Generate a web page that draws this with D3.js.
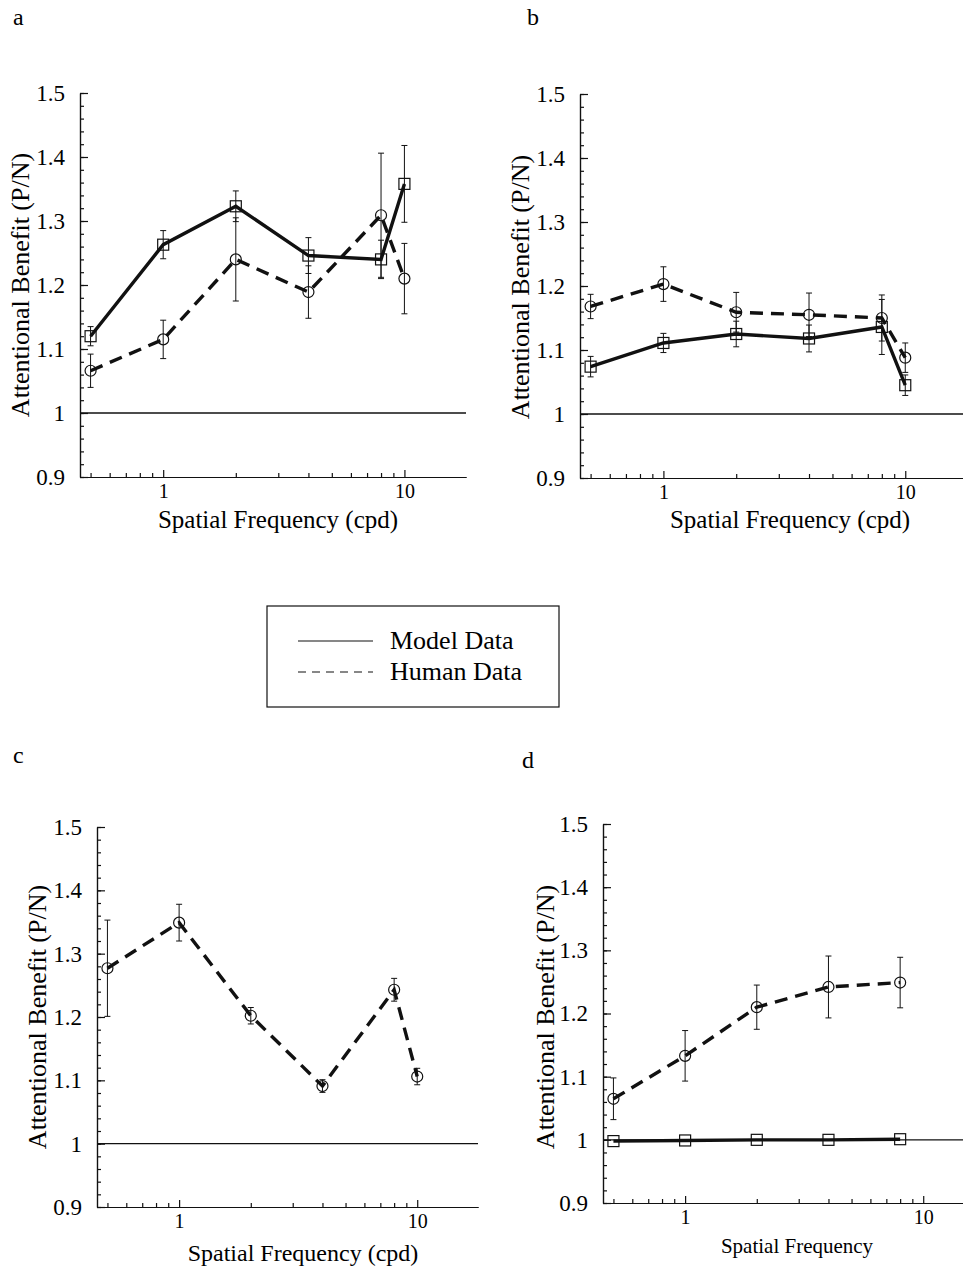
<!DOCTYPE html>
<html>
<head>
<meta charset="utf-8">
<script src="https://cdn.jsdelivr.net/npm/d3@7"></script>
<style>
  body { margin: 0; background: #fff; }
  svg { display: block; font-family: "Liberation Serif", "Times New Roman", serif; }
</style>
</head>
<body>
<svg width="963" height="1268"></svg>
<script>
// spatial frequencies (cpd)
var freqs = [0.5, 1, 2, 4, 8, 10];
var freqsD = [0.5, 1, 2, 4, 8];

// panel a
var aModel = [1.120, 1.263, 1.323, 1.246, 1.240, 1.358];
var aModelErr = [0.015, 0.022, 0.024, 0.028, 0.030, 0.060];
var aHuman = [1.066, 1.115, 1.240, 1.189, 1.309, 1.210];
var aHumanErr = [0.026, 0.030, 0.065, 0.041, 0.097, 0.055];

// panel b
var bModel = [1.074, 1.111, 1.125, 1.118, 1.136, 1.045];
var bModelErr = [0.016, 0.015, 0.020, 0.021, 0.043, 0.016];
var bHuman = [1.168, 1.203, 1.159, 1.155, 1.150, 1.088];
var bHumanErr = [0.019, 0.027, 0.031, 0.034, 0.036, 0.023];

// panel c (human only)
var cHuman = [1.277, 1.349, 1.202, 1.091, 1.243, 1.106];
var cHumanErr = [0.076, 0.029, 0.013, 0.010, 0.018, 0.013];

// panel d
var dModel = [0.998, 0.999, 1.000, 1.000, 1.001];
var dHuman = [1.065, 1.133, 1.210, 1.242, 1.249];
var dHumanErr = [0.033, 0.040, 0.035, 0.049, 0.040];

// ticks and labels
var yTicks = [0.9, 1, 1.1, 1.2, 1.3, 1.4, 1.5];
var xTicks = [1, 10];
var xMinor = [0.5, 0.6, 0.7, 0.8, 0.9, 2, 3, 4, 5, 6, 7, 8, 9];
var yTitle = "Attentional Benefit (P/N)";
var xTitles = ["Spatial Frequency (cpd)", "Spatial Frequency (cpd)", "Spatial Frequency (cpd)", "Spatial Frequency"];
var panelNames = ["a", "b", "c", "d"];
var legendNames = ["Model Data", "Human Data"];

function pts(f, v, e) {
  return f.map(function(d, i) { return {f: d, v: v[i], e: e ? e[i] : 0}; });
}

var svg = d3.select("svg");

// layout for each panel (not data)
var layout = [
  {left: 80, width: 386, top: 93, bottom: 477, lx: 13, ly: 25, tx: 278, ty: 528, tsize: 25, yx: 29, yy: 285},
  {left: 580, width: 387, top: 94, bottom: 478, lx: 527, ly: 25, tx: 790, ty: 528, tsize: 25, yx: 529, yy: 287},
  {left: 97, width: 381, top: 827, bottom: 1207, lx: 13, ly: 763, tx: 303, ty: 1261, tsize: 24, yx: 46, yy: 1017},
  {left: 603, width: 381, top: 824, bottom: 1203, lx: 522, ly: 768, tx: 797, ty: 1253, tsize: 21, yx: 554, yy: 1017}
];

var panelSeries = [
  [{pts: pts(freqs, aModel, aModelErr), dash: null, mark: "square"},
   {pts: pts(freqs, aHuman, aHumanErr), dash: "13,8", mark: "circle"}],
  [{pts: pts(freqs, bModel, bModelErr), dash: null, mark: "square"},
   {pts: pts(freqs, bHuman, bHumanErr), dash: "13,8", mark: "circle"}],
  [{pts: pts(freqs, cHuman, cHumanErr), dash: "13,8", mark: "circle"}],
  [{pts: pts(freqsD, dModel, null), dash: null, mark: "square"},
   {pts: pts(freqsD, dHuman, dHumanErr), dash: "13,8", mark: "circle"}]
];

layout.forEach(function(p, k) {
  var x = d3.scaleLog().domain([0.452, 18]).range([p.left, p.left + p.width]);
  var y = d3.scaleLinear().domain([0.9, 1.5]).range([p.bottom, p.top]);
  var g = svg.append("g");

  // minor ticks first, then major axes
  g.append("g").attr("transform", "translate(0," + p.bottom + ")")
    .call(d3.axisBottom(x).tickValues(xMinor).tickSize(-4).tickSizeOuter(0).tickFormat(""));
  g.append("g").attr("transform", "translate(" + p.left + ",0)")
    .call(d3.axisLeft(y).tickValues(d3.range(0.9, 1.5001, 0.02)).tickSize(-4).tickSizeOuter(0).tickFormat(""));

  var xa = g.append("g").attr("transform", "translate(0," + p.bottom + ")")
    .call(d3.axisBottom(x).tickValues(xTicks).tickSize(-7).tickSizeOuter(0).tickPadding(7).tickFormat(d3.format("d")));
  xa.selectAll("text").attr("font-size", 20);

  var ya = g.append("g").attr("transform", "translate(" + p.left + ",0)")
    .call(d3.axisLeft(y).tickValues(yTicks).tickSize(-8).tickSizeOuter(0).tickPadding(15)
      .tickFormat(function(d) { return d === 1 ? "1" : d.toFixed(1); }));
  ya.selectAll("text").attr("font-size", 23);

  g.selectAll("g").attr("font-family", null);
  g.selectAll(".domain, .tick line").attr("stroke", "#111").attr("stroke-width", 1.2);

  // reference line at 1
  g.append("line")
    .attr("x1", x.range()[0]).attr("x2", x.range()[1])
    .attr("y1", y(1)).attr("y2", y(1))
    .attr("stroke", "#111").attr("stroke-width", 1.3);

  var line = d3.line().x(function(d) { return x(d.f); }).y(function(d) { return y(d.v); });

  panelSeries[k].forEach(function(s) {
    // error bars
    var eb = g.append("g").selectAll("g").data(s.pts.filter(function(d) { return d.e > 0; })).enter().append("g")
      .attr("stroke", "#111").attr("stroke-width", 1);
    eb.append("line").attr("x1", function(d) { return x(d.f); }).attr("x2", function(d) { return x(d.f); })
      .attr("y1", function(d) { return y(d.v - d.e); }).attr("y2", function(d) { return y(d.v + d.e); });
    eb.append("line").attr("x1", function(d) { return x(d.f) - 3; }).attr("x2", function(d) { return x(d.f) + 3; })
      .attr("y1", function(d) { return y(d.v + d.e); }).attr("y2", function(d) { return y(d.v + d.e); });
    eb.append("line").attr("x1", function(d) { return x(d.f) - 3; }).attr("x2", function(d) { return x(d.f) + 3; })
      .attr("y1", function(d) { return y(d.v - d.e); }).attr("y2", function(d) { return y(d.v - d.e); });

    g.append("path").datum(s.pts).attr("d", line)
      .attr("fill", "none").attr("stroke", "#111").attr("stroke-width", 3.4)
      .attr("stroke-dasharray", s.dash);
  });

  // markers on top
  panelSeries[k].forEach(function(s) {
    if (s.mark === "square") {
      g.append("g").selectAll("rect").data(s.pts).enter().append("rect")
        .attr("x", function(d) { return x(d.f) - 5.5; }).attr("y", function(d) { return y(d.v) - 5.5; })
        .attr("width", 11).attr("height", 11)
        .attr("fill", "none").attr("stroke", "#111").attr("stroke-width", 1.2);
    } else {
      g.append("g").selectAll("circle").data(s.pts).enter().append("circle")
        .attr("cx", function(d) { return x(d.f); }).attr("cy", function(d) { return y(d.v); })
        .attr("r", 5.5)
        .attr("fill", "none").attr("stroke", "#111").attr("stroke-width", 1.2);
    }
  });

  // titles
  svg.append("text").attr("x", p.lx).attr("y", p.ly).attr("font-size", 24).text(panelNames[k]);
  svg.append("text").attr("x", p.tx).attr("y", p.ty).attr("font-size", p.tsize)
    .attr("text-anchor", "middle").text(xTitles[k]);
  svg.append("text").attr("transform", "translate(" + p.yx + "," + p.yy + ") rotate(-90)")
    .attr("font-size", 26).attr("text-anchor", "middle").text(yTitle);
});

// legend
var leg = svg.append("g");
leg.append("rect").attr("x", 267).attr("y", 606).attr("width", 292).attr("height", 101)
  .attr("fill", "none").attr("stroke", "#111").attr("stroke-width", 1.2);
legendNames.forEach(function(name, i) {
  var ly = 641 + i * 31;
  leg.append("line").attr("x1", 298).attr("x2", 373).attr("y1", ly).attr("y2", ly)
    .attr("stroke", "#111").attr("stroke-width", 1.2)
    .attr("stroke-dasharray", i === 1 ? "8,6" : null);
  leg.append("text").attr("x", 390).attr("y", ly + 8).attr("font-size", 26).text(name);
});
</script>
</body>
</html>
